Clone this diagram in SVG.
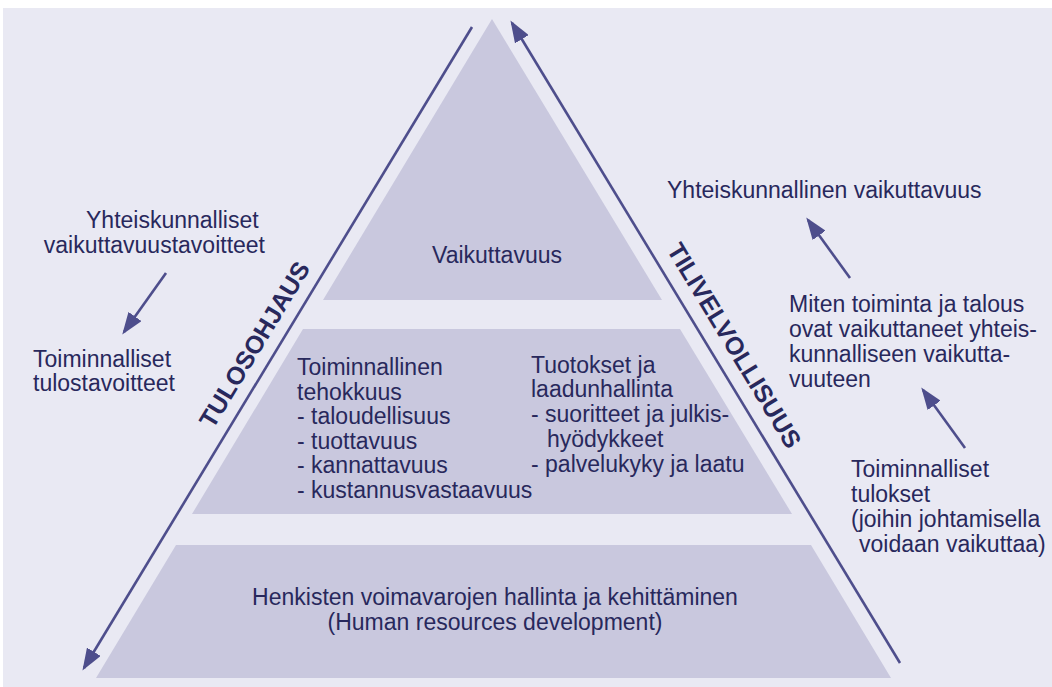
<svg xmlns="http://www.w3.org/2000/svg" width="1052" height="687" viewBox="0 0 1052 687">
  <defs>
    <style>
      .bg { fill: #e9e9f3; }
      .tier { fill: #c9c8de; }
      .txt { font-family: "Liberation Sans", Arial, sans-serif; font-size: 23px; fill: #28285c; }
      .side { font-family: "Liberation Sans", Arial, sans-serif; font-size: 25px; font-weight: bold; fill: #28285c; }
      .axis { stroke: #4e4e8c; stroke-width: 2.6; fill: none; }
      .flow { stroke: #4e4e8c; stroke-width: 2.6; fill: none; }
    </style>
    <marker id="head" markerUnits="userSpaceOnUse" markerWidth="22" markerHeight="16" refX="19" refY="8" orient="auto" viewBox="0 0 22 16">
      <path d="M0,0 L22,8 L0,16 z" fill="#4e4e8c"/>
    </marker>
  </defs>

  <!-- page background -->
  <rect x="0" y="0" width="1052" height="687" fill="#ffffff"/>
  <rect class="bg" x="3" y="8" width="1049" height="679"/>

  <!-- pyramid tiers -->
  <g id="tier-top">
    <polygon class="tier" points="492,19 662,300 323,300"/>
    <text class="txt" x="497" y="263" text-anchor="middle">Vaikuttavuus</text>
  </g>

  <g id="tier-middle">
    <polygon class="tier" points="303,329 680,329 792,514 192,514"/>
    <text class="txt" x="297" y="375">
      <tspan x="297" y="375">Toiminnallinen</tspan>
      <tspan x="297" y="400">tehokkuus</tspan>
      <tspan x="297" y="424">- taloudellisuus</tspan>
      <tspan x="297" y="449">- tuottavuus</tspan>
      <tspan x="297" y="473">- kannattavuus</tspan>
      <tspan x="297" y="498">- kustannusvastaavuus</tspan>
    </text>
    <text class="txt" x="531" y="373">
      <tspan x="531" y="373">Tuotokset ja</tspan>
      <tspan x="531" y="397">laadunhallinta</tspan>
      <tspan x="531" y="422">- suoritteet ja julkis-</tspan>
      <tspan x="547" y="447">hyödykkeet</tspan>
      <tspan x="531" y="472">- palvelukyky ja laatu</tspan>
    </text>
  </g>

  <g id="tier-bottom">
    <polygon class="tier" points="176,545 811,545 891,678 96,678"/>
    <text class="txt" x="495" y="605" text-anchor="middle">Henkisten voimavarojen hallinta ja kehittäminen</text>
    <text class="txt" x="495" y="630" text-anchor="middle">(Human resources development)</text>
  </g>

  <!-- side labels along the pyramid edges -->
  <g id="label-tulosohjaus">
    <text class="side" transform="translate(262,349) rotate(-58.8)" text-anchor="middle">TULOSOHJAUS</text>
  </g>
  <g id="label-tilivelvollisuus">
    <text class="side" transform="translate(727,350) rotate(58.8)" text-anchor="middle">TILIVELVOLLISUUS</text>
  </g>

  <!-- left column -->
  <g id="goal-society">
    <text class="txt" text-anchor="end">
      <tspan x="265" y="228">Yhteiskunnalliset</tspan>
      <tspan x="265" y="253">vaikuttavuustavoitteet</tspan>
    </text>
  </g>
  <g id="goal-operational">
    <text class="txt">
      <tspan x="33" y="367">Toiminnalliset</tspan>
      <tspan x="33" y="391">tulostavoitteet</tspan>
    </text>
  </g>

  <!-- right column -->
  <g id="result-society">
    <text class="txt" x="667" y="198">Yhteiskunnallinen vaikuttavuus</text>
  </g>
  <g id="result-impact">
    <text class="txt">
      <tspan x="789" y="312">Miten toiminta ja talous</tspan>
      <tspan x="789" y="337">ovat vaikuttaneet yhteis-</tspan>
      <tspan x="789" y="362">kunnalliseen vaikutta-</tspan>
      <tspan x="789" y="387">vuuteen</tspan>
    </text>
  </g>
  <g id="result-operational">
    <text class="txt">
      <tspan x="851" y="477">Toiminnalliset</tspan>
      <tspan x="851" y="502">tulokset</tspan>
      <tspan x="851" y="527">(joihin johtamisella</tspan>
      <tspan x="859" y="552">voidaan vaikuttaa)</tspan>
    </text>
  </g>

  <!-- connectors -->
  <g id="connectors">
    <line class="axis" x1="472" y1="27" x2="84" y2="668" marker-end="url(#head)"/>
    <line class="axis" x1="900" y1="663" x2="512" y2="23" marker-end="url(#head)"/>
    <line class="flow" x1="166" y1="273" x2="124" y2="332" marker-end="url(#head)"/>
    <line class="flow" x1="850" y1="278" x2="808" y2="220" marker-end="url(#head)"/>
    <line class="flow" x1="965" y1="448" x2="923" y2="390" marker-end="url(#head)"/>
  </g>
</svg>
